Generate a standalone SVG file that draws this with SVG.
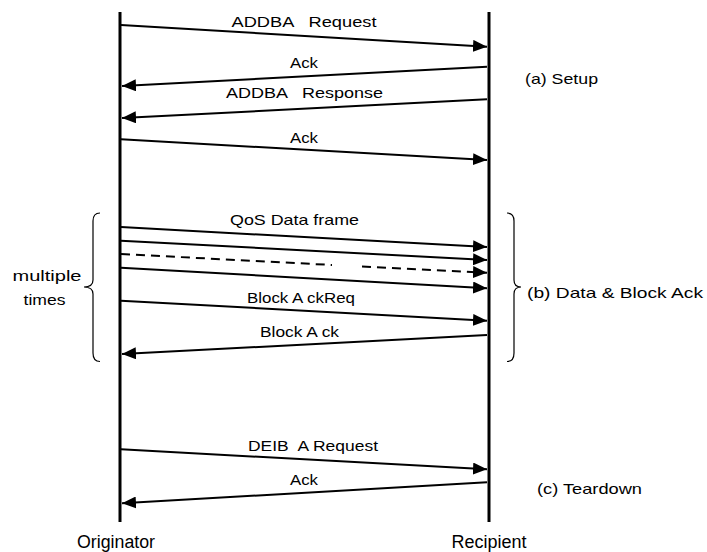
<svg xmlns="http://www.w3.org/2000/svg" width="707" height="552" viewBox="0 0 707 552">
<style>
text{font-family:"Liberation Sans",Arial,sans-serif;font-size:15px;fill:#000;white-space:pre}
.lbl{text-anchor:middle}
.life{stroke:#000;stroke-width:3;fill:none}
.msg{stroke:#000;stroke-width:2;fill:none;marker-end:url(#ah)}
.dash{stroke:#000;stroke-width:2;fill:none;stroke-dasharray:9,6}
.brace{stroke:#000;stroke-width:1.2;fill:none}
</style>
<defs>
<marker id="ah" viewBox="0 0 14 12" refX="14" refY="6" markerWidth="14" markerHeight="12" markerUnits="userSpaceOnUse" orient="auto">
<path d="M0,0 L14,6 L0,12 z" fill="#000"/>
</marker>
</defs>
<rect width="707" height="552" fill="#fff"/>
<g id="originator">
<line class="life" x1="120" y1="12" x2="120" y2="522"/>
<text x="116" y="548" class="lbl" style="font-size:18px" textLength="78" lengthAdjust="spacingAndGlyphs">Originator</text>
</g>
<g id="recipient">
<line class="life" x1="489" y1="12" x2="489" y2="522"/>
<text x="489" y="548" class="lbl" style="font-size:18px" textLength="75" lengthAdjust="spacingAndGlyphs">Recipient</text>
</g>
<g id="connectors">
<line class="msg" x1="121" y1="25" x2="487" y2="46.7"/>
<line class="msg" x1="487" y1="66.7" x2="122" y2="86"/>
<line class="msg" x1="487" y1="99.3" x2="122" y2="118"/>
<line class="msg" x1="121" y1="139.3" x2="487" y2="160"/>
<line class="msg" x1="121" y1="227" x2="487" y2="247"/>
<line class="msg" x1="121" y1="240.7" x2="487" y2="260"/>
<line class="dash" x1="121" y1="254" x2="332" y2="265"/>
<path class="dash" d="M362,266.5 L476,272.2" />
<line class="msg" x1="476" y1="272.2" x2="487" y2="272.7"/>
<line class="msg" x1="121" y1="267.7" x2="487" y2="288.3"/>
<line class="msg" x1="121" y1="300.7" x2="487" y2="320.7"/>
<line class="msg" x1="487" y1="335" x2="122" y2="354"/>
<line class="msg" x1="121" y1="449.3" x2="487" y2="469.3"/>
<line class="msg" x1="487" y1="482.3" x2="122" y2="503.3"/>
</g>
<g id="labels">
<text x="304" y="27" class="lbl" textLength="145" lengthAdjust="spacingAndGlyphs">ADDBA   Request</text>
<text x="304" y="68" class="lbl" textLength="28" lengthAdjust="spacingAndGlyphs">Ack</text>
<text x="304.5" y="97.5" class="lbl" textLength="157" lengthAdjust="spacingAndGlyphs">ADDBA   Response</text>
<text x="304" y="142.7" class="lbl" textLength="28" lengthAdjust="spacingAndGlyphs">Ack</text>
<text x="294.5" y="225" class="lbl" textLength="129" lengthAdjust="spacingAndGlyphs">QoS Data frame</text>
<text x="301" y="303" class="lbl" textLength="108" lengthAdjust="spacingAndGlyphs">Block A ckReq</text>
<text x="299.5" y="336.7" class="lbl" textLength="79" lengthAdjust="spacingAndGlyphs">Block A ck</text>
<text x="313" y="451" class="lbl" textLength="130" lengthAdjust="spacingAndGlyphs">DEIB  A Request</text>
<text x="304" y="485" class="lbl" textLength="28" lengthAdjust="spacingAndGlyphs">Ack</text>
</g>
<g id="phase-a">
<text x="525" y="84" textLength="73" lengthAdjust="spacingAndGlyphs">(a) Setup</text>
</g>
<g id="phase-b">
<path class="brace" d="M507,213 Q514,213 514,221 L514,280 Q514,287 521,287 Q514,287 514,294 L514,353 Q514,361.5 507,361.5"/>
<text x="527" y="298" textLength="176" lengthAdjust="spacingAndGlyphs">(b) Data &amp; Block Ack</text>
</g>
<g id="phase-c">
<text x="537" y="494" textLength="105" lengthAdjust="spacingAndGlyphs">(c) Teardown</text>
</g>
<g id="multiple-times">
<path class="brace" d="M100,213 Q93,213 93,221 L93,280 Q93,287 84,287 Q93,287 93,294 L93,353 Q93,361.5 100,361.5"/>
<text x="47" y="280.5" class="lbl" textLength="69" lengthAdjust="spacingAndGlyphs">multiple</text>
<text x="44.5" y="305" class="lbl" textLength="42" lengthAdjust="spacingAndGlyphs">times</text>
</g>
</svg>
